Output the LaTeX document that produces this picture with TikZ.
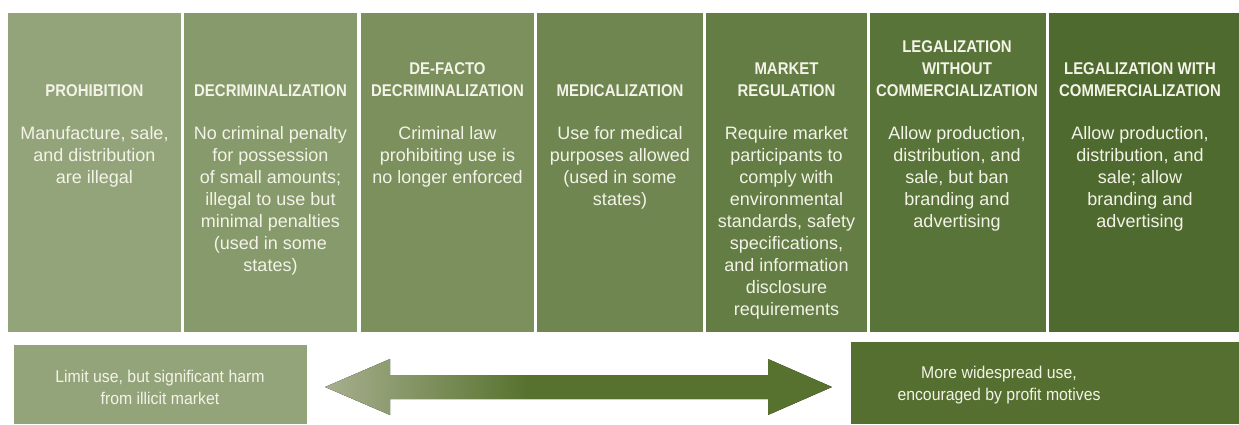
\documentclass[tikz,border=0pt]{standalone}
\usepackage{fontspec}
\setmainfont{Liberation Sans}
\newfontfamily\hdfont[FakeStretch=0.88]{Liberation Sans}
\newfontfamily\btfont[FakeStretch=0.93]{Liberation Sans}
\definecolor{cA}{HTML}{94A47A}
\definecolor{cB}{HTML}{879A6B}
\definecolor{cC}{HTML}{7B905D}
\definecolor{cD}{HTML}{6F8651}
\definecolor{cE}{HTML}{637D44}
\definecolor{cF}{HTML}{597439}
\definecolor{cG}{HTML}{4F6A2E}
\definecolor{cR}{HTML}{556F30}
\definecolor{txt}{HTML}{F3F3E8}
\definecolor{arrL}{HTML}{A7AF8E}
\definecolor{arrD}{HTML}{57722F}
\pgfdeclarehorizontalshading{arrowshade}{100bp}{color(0bp)=(arrL); color(25bp)=(arrL); color(45bp)=(arrD); color(100bp)=(arrD)}
\begin{document}
\begin{tikzpicture}[x=1pt,y=-1pt,
  colbox/.style={fill=#1, draw=none, inner sep=0pt, anchor=north west, minimum height=319pt},
  hd/.style={anchor=south, inner sep=0pt, align=center, text=txt,
    font=\hdfont\bfseries\fontsize{17}{22}\selectfont},
  bd/.style={anchor=north, inner sep=0pt, align=center, text=txt,
    font=\fontsize{18}{22}\selectfont, execute at begin node={\rule{0pt}{14pt}}},
  bt/.style={anchor=north, inner sep=0pt, align=center, text=txt,
    font=\btfont\fontsize{17}{22}\selectfont, execute at begin node={\rule{0pt}{13pt}}},
  botbox/.style={fill=#1, draw=none, inner sep=0pt, anchor=north west}
]
\useasboundingbox[fill=white] (0,0) rectangle (1239,424);

% columns
\node[colbox=cA, minimum width=173pt] (c1) at (8,13) {};
\node[colbox=cB, minimum width=173pt] (c2) at (184,13) {};
\node[colbox=cC, minimum width=173pt] (c3) at (361,13) {};
\node[colbox=cD, minimum width=166pt] (c4) at (537,13) {};
\node[colbox=cE, minimum width=161pt] (c5) at (706,13) {};
\node[colbox=cF, minimum width=176pt] (c6) at (870,13) {};
\node[colbox=cG, minimum width=190pt] (c7) at (1049,13) {};

% headers
\node[hd] (h1) at (94.5,97) {PROHIBITION};
\node[hd] (h2) at (270.5,97) {DECRIMINALIZATION};
\node[hd] (h3) at (447.5,97) {DE-FACTO\\DECRIMINALIZATION};
\node[hd] (h4) at (620,97) {MEDICALIZATION};
\node[hd] (h5) at (786.5,97) {MARKET\\REGULATION};
\node[hd] (h6) at (957,97) {LEGALIZATION\\WITHOUT\\COMMERCIALIZATION};
\node[hd] (h7) at (1140,97) {LEGALIZATION WITH\\COMMERCIALIZATION};

% bodies
\node[bd] (b1) at (94.5,126) {Manufacture, sale,\\and distribution\\are illegal};
\node[bd] (b2) at (270.5,126) {No criminal penalty\\for possession\\of small amounts;\\illegal to use but\\minimal penalties\\(used in some\\states)};
\node[bd] (b3) at (447.5,126) {Criminal law\\prohibiting use is\\no longer enforced};
\node[bd] (b4) at (620,126) {Use for medical\\purposes allowed\\(used in some\\states)};
\node[bd] (b5) at (786.5,126) {Require market\\participants to\\comply with\\environmental\\standards, safety\\specifications,\\and information\\disclosure\\requirements};
\node[bd] (b6) at (957,126) {Allow production,\\distribution, and\\sale, but ban\\branding and\\advertising};
\node[bd] (b7) at (1140,126) {Allow production,\\distribution, and\\sale; allow\\branding and\\advertising};

% bottom boxes
\node[botbox=cA, minimum width=293pt, minimum height=79pt] (lb) at (14,345) {};
\node[botbox=cR, minimum width=388pt, minimum height=82pt] (rb) at (851,342) {};
\node[bt] (lt) at (160,370) {Limit use, but significant harm\\from illicit market};
\node[bt] (rt) at (999,366) {More widespread use,\\encouraged by profit motives};

% double arrow
\fill[shading=arrowshade] (325,387) -- (390,359) -- (390,375) -- (768,375) -- (768,359)
  -- (832,387) -- (768,415) -- (768,399) -- (390,399) -- (390,415) -- cycle;
\end{tikzpicture}
\end{document}
